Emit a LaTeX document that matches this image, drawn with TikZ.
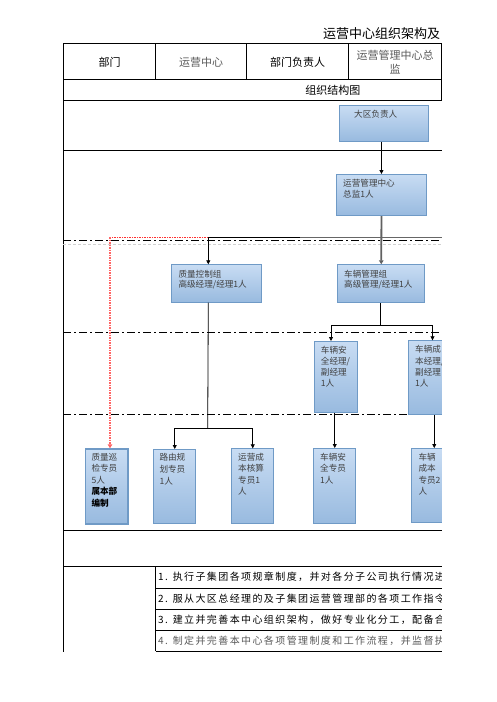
\documentclass[tikz,border=0pt]{standalone}
\usepackage{fontspec}
\setmainfont{Noto Sans CJK SC}
\newfontfamily\rowfont[LetterSpace=14]{Noto Sans CJK SC}
\usetikzlibrary{arrows.meta}
\definecolor{bxtop}{HTML}{C8DCF3}
\definecolor{bxbot}{HTML}{98BADF}
\definecolor{bxline}{HTML}{6F9AC6}
\definecolor{txtgray}{HTML}{404040}
\definecolor{hdgray}{HTML}{595959}
\definecolor{redline}{HTML}{FF3030}
\tikzset{
  orgbox/.style={draw=bxline, line width=0.9pt, top color=bxtop, bottom color=bxbot,
    anchor=north west, inner sep=0pt, minimum width=#1},
  boxtext/.style={anchor=north west, inner sep=0pt, align=left, text=txtgray},
  wide/.style={font=\fontsize{8.6}{10.7}\selectfont},
  narrow/.style={font=\fontsize{8.6}{11.5}\selectfont},
  conn/.style={draw=black, line width=0.8pt},
  arr/.style={-{Triangle[length=4pt,width=4pt]}},
  sect/.style={line width=0.8pt, dash pattern=on 8pt off 3pt on 2pt off 3pt},
  gridline/.style={line width=0.9pt},
  hdr/.style={font=\fontsize{11}{14}\selectfont, inner sep=0pt},
  rowtxt/.style={anchor=west, inner sep=0pt, font=\rowfont\fontsize{10}{12}\selectfont},
}
\begin{document}
\begin{tikzpicture}[x=1pt,y=-1pt]
\useasboundingbox (0,0) rectangle (496,702);
\begin{scope}
\clip (0,0) rectangle (441.9,702);
% title
\node[anchor=west, inner sep=0pt, font=\fontsize{13}{15}\selectfont] (title) at (323,33.3) {运营中心组织架构及};
% table grid
\draw[line width=1.3pt] (63.3,43.7) -- (441.7,43.7);
\draw[gridline] (63.3,43.7) -- (63.3,651.7);
\draw[gridline] (63.3,79.3) -- (441.7,79.3);
\draw[gridline] (155.7,43.7) -- (155.7,79.3);
\draw[gridline] (246.7,43.7) -- (246.7,79.3);
\draw[gridline] (348.7,43.7) -- (348.7,79.3);
\draw[gridline] (441.2,43.7) -- (441.2,100);
\draw[gridline] (63.3,100) -- (441.7,100);
\draw[gridline] (63.3,150) -- (441.7,150);
\draw[sect] (63.3,240) -- (441.7,240);
\draw[line width=0.5pt, draw=black!18, dash pattern=on 3pt off 2pt] (63.3,244) -- (441.7,244);
\draw[sect] (63.3,332.3) -- (441.7,332.3);
\draw[sect] (63.3,414.3) -- (441.7,414.3);
\draw[gridline] (63.3,530.3) -- (441.7,530.3);
\draw[gridline] (63.3,566) -- (441.7,566);
\draw[gridline] (155.7,566) -- (155.7,651.3);
\foreach \yy in {588.3,609.3,630.3,651.3}
  \draw[gridline] (155.7,\yy) -- (441.7,\yy);
% header texts
\node[hdr] (h1) at (109.5,62) {部门};
\node[hdr, text=hdgray] (h2) at (201,62) {运营中心};
\node[hdr] (h3) at (297.7,62) {部门负责人};
\node[hdr, text=hdgray, align=center, font=\fontsize{11}{14.5}\selectfont] (h4) at (395,62.3) {运营管理中心总\\监};
\node[hdr] (h5) at (332.8,90) {组织结构图};
% row texts
\node[rowtxt] (r1) at (158,577) {1. 执行子集团各项规章制度，并对各分子公司执行情况进行};
\node[rowtxt] (r2) at (158,598.8) {2. 服从大区总经理的及子集团运营管理部的各项工作指令};
\node[rowtxt] (r3) at (158,619.8) {3. 建立并完善本中心组织架构，做好专业化分工，配备合适};
\node[rowtxt, text=hdgray] (r4) at (158,640.8) {4. 制定并完善本中心各项管理制度和工作流程，并监督执行};
% boxes
\node[orgbox=88.4pt, minimum height=35.4pt] (b1) at (339.3,105.3) {};
\node[boxtext, wide] at (354,110) {大区负责人};
\node[orgbox=89.4pt, minimum height=41.3pt] (b2) at (336.3,174) {};
\node[boxtext, wide] at (343,179.3) {运营管理中心\\总监1人};
\node[orgbox=90pt, minimum height=37.4pt] (b3) at (171.3,264.3) {};
\node[boxtext, wide] at (178.3,269.7) {质量控制组\\高级经理/经理1人};
\node[orgbox=87pt, minimum height=38pt] (b4) at (337.3,264.3) {};
\node[boxtext, wide] at (344,269.7) {车辆管理组\\高级管理/经理1人};
\node[orgbox=43pt, minimum height=71.3pt] (b5) at (314.3,341) {};
\node[boxtext, font=\fontsize{8.6}{11.1}\selectfont] at (320.7,346) {车辆安\\全经理/\\副经理\\1人};
\node[orgbox=45pt, minimum height=74pt] (b6) at (408.3,340.3) {};
\node[boxtext, font=\fontsize{8.6}{11.1}\selectfont] at (415,345.5) {车辆成\\本经理/\\副经理\\1人};
\node[orgbox=42.6pt, minimum height=74.7pt, line width=1.6pt] (b7) at (84.7,448.3) {};
\node[boxtext, narrow] at (91.3,452.7) {质量巡\\检专员\\5人\\\textcolor{black}{\textbf{属本部}}\\\textcolor{black}{\textbf{编制}}};
\node[orgbox=42pt, minimum height=74.3pt] (b8) at (153.3,449) {};
\node[boxtext, font=\fontsize{8.6}{12.4}\selectfont] at (159.3,452.7) {路由规\\划专员\\1人};
\node[orgbox=42pt, minimum height=75pt] (b9) at (231.3,448.3) {};
\node[boxtext, narrow] at (238,452.7) {运营成\\本核算\\专员1\\人};
\node[orgbox=42pt, minimum height=75pt] (b10) at (313.3,448) {};
\node[boxtext, narrow] at (320,452.7) {车辆安\\全专员\\1人};
\node[orgbox=45pt, minimum height=73.7pt] (b11) at (411.3,448) {};
\node[boxtext, narrow] at (418.3,453) {车辆\\成本\\专员2\\人};
% connectors
\coordinate (j1) at (208.3,237.3);
\coordinate (jr) at (441.9,237.3);
\coordinate (r1) at (110,237.3);
\coordinate (j2) at (207.7,428.3);
\coordinate (j3) at (380.3,325.7);
\coordinate (j3a) at (331,325.7);
\coordinate (j3b) at (432.5,325.7);
\draw[conn, arr] (b1.south -| b2.north) -- (b2.north);
\draw[draw=black!62, line width=1.8pt, -{Triangle[length=4pt,width=4.5pt]}] (b2.south) -- (b4.north);
\draw[draw=black!60, line width=1.1pt] (j1) -- (jr);
\draw[conn] (j1) -- (300,237.3);
\draw[conn, arr] (j1) -- (j1 |- b3.north);
\draw[draw=redline, line width=0.9pt, dash pattern=on 1.5pt off 1pt] (j1) -- (r1);
\draw[draw=redline!75, line width=1.4pt, dash pattern=on 1.5pt off 1pt, -{Triangle[length=4pt,width=4.5pt]}] (r1) -- (r1 |- b7.north);
\draw[conn] (j1 |- b3.south) -- (j2);
\draw[conn] (b8.north |- j2) -- (b9.north |- j2);
\draw[conn, arr] (b8.north |- j2) -- (b8.north);
\draw[conn, arr] (b9.north |- j2) -- (b9.north);
\draw[conn] (j3 |- b4.south) -- (j3);
\draw[conn] (j3a) -- (j3b);
\draw[conn, arr] (j3a) -- (j3a |- b5.north);
\draw[conn, arr] (j3b) -- (j3b |- b6.north);
\draw[conn, arr] (b10.north |- b5.south) -- (b10.north);
\draw[conn, arr] (b11.north |- b6.south) -- (b11.north);
\end{scope}
\end{tikzpicture}
\end{document}
